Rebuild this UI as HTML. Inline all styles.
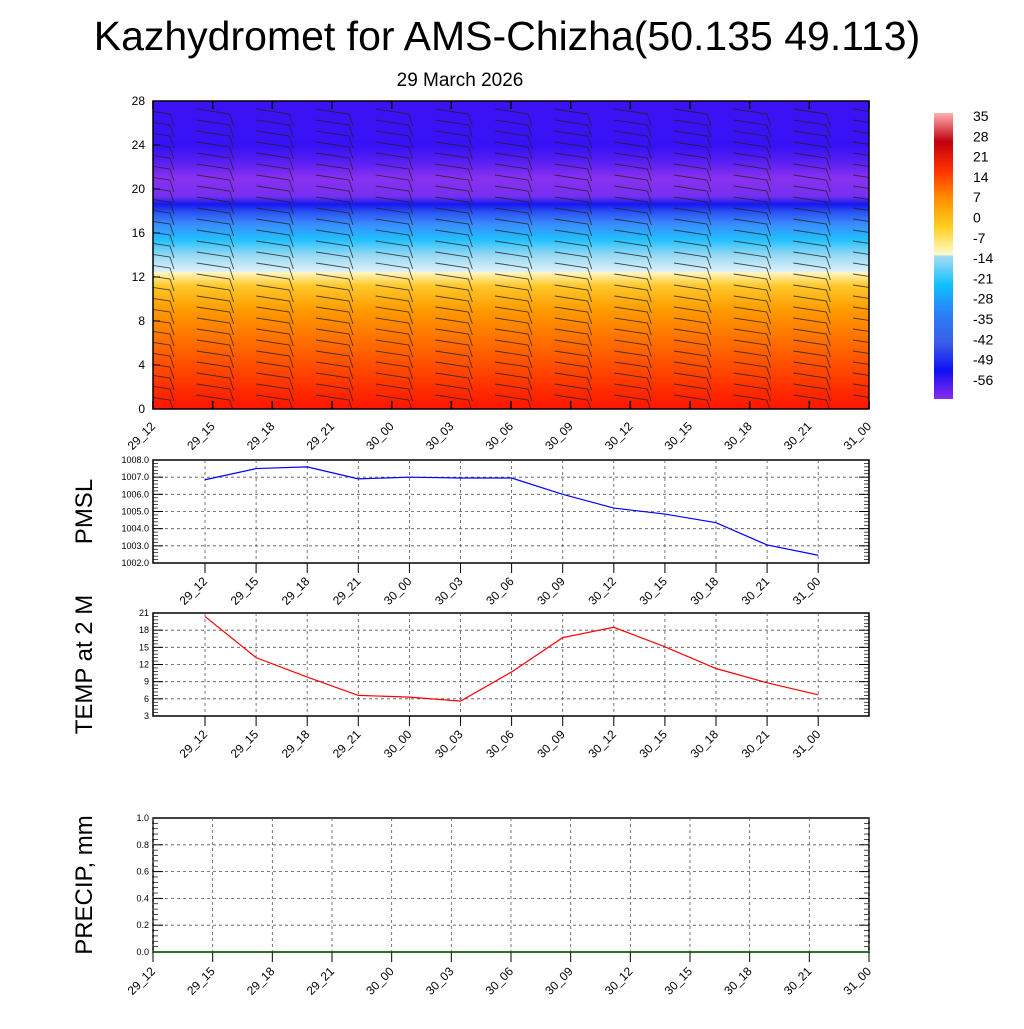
<!DOCTYPE html>
<html><head><meta charset="utf-8"><style>
body{margin:0;background:#fff;font-family:"Liberation Sans",sans-serif}
svg text{font-family:"Liberation Sans",sans-serif}
</style></head><body>
<svg id="s" width="1024" height="1024" viewBox="0 0 1024 1024">
<defs>
<linearGradient id="tg" x1="0" y1="1" x2="0" y2="0">
<stop offset="0" stop-color="#ff1400"/>
<stop offset="0.1" stop-color="#ff3c00"/>
<stop offset="0.22" stop-color="#ff6e00"/>
<stop offset="0.32" stop-color="#ff9a00"/>
<stop offset="0.40" stop-color="#ffc82a"/>
<stop offset="0.443" stop-color="#fff6c0"/>
<stop offset="0.447" stop-color="#dcf0fa"/>
<stop offset="0.50" stop-color="#96d8f2"/>
<stop offset="0.55" stop-color="#20c0ff"/>
<stop offset="0.60" stop-color="#3a8cff"/>
<stop offset="0.64" stop-color="#2a50f2"/>
<stop offset="0.665" stop-color="#1418ee"/>
<stop offset="0.69" stop-color="#7430f0"/>
<stop offset="0.75" stop-color="#8a30f0"/>
<stop offset="0.80" stop-color="#5a20f2"/>
<stop offset="0.85" stop-color="#3812f6"/>
<stop offset="1" stop-color="#3c12f4"/>
</linearGradient>
<linearGradient id="cb" x1="0" y1="1" x2="0" y2="0">
<stop offset="0" stop-color="#8a2cf0"/>
<stop offset="0.1" stop-color="#1010f0"/>
<stop offset="0.2" stop-color="#3a60e8"/>
<stop offset="0.3" stop-color="#2a80f8"/>
<stop offset="0.4" stop-color="#10c0ff"/>
<stop offset="0.5" stop-color="#a8dcf0"/>
<stop offset="0.505" stop-color="#fffad0"/>
<stop offset="0.6" stop-color="#ffd020"/>
<stop offset="0.7" stop-color="#ff9000"/>
<stop offset="0.8" stop-color="#ff3000"/>
<stop offset="0.9" stop-color="#c00010"/>
<stop offset="1" stop-color="#ffb0b0"/>
</linearGradient>
<clipPath id="mc"><rect x="153" y="101" width="716" height="308"/></clipPath>
</defs>
<text x="507" y="50" font-size="41" text-anchor="middle">Kazhydromet for AMS-Chizha(50.135 49.113)</text>
<text x="460" y="86" font-size="19" text-anchor="middle">29 March 2026</text>
<rect x="153" y="101" width="716" height="308" fill="url(#tg)"/>
<g id="barbs" clip-path="url(#mc)"></g>
<rect x="153" y="101" width="716" height="308" fill="none" stroke="#000" stroke-width="1.5"/>
<g id="mainax"></g>
<rect x="934" y="113" width="19" height="286" fill="url(#cb)"/>
<g id="cbl"></g>
<g id="p1"></g><g id="p2"></g><g id="p3"></g>
</svg>
<script>
const times=["29_12","29_15","29_18","29_21","30_00","30_03","30_06","30_09","30_12","30_15","30_18","30_21","31_00"];
const pmsl=[1006.85,1007.5,1007.6,1006.9,1007.0,1006.95,1006.95,1006.0,1005.2,1004.85,1004.35,1003.05,1002.45];
const temp2m=[20.4,13.2,9.8,6.6,6.3,5.6,10.7,16.7,18.5,15.1,11.3,8.8,6.7];
const precip=[0,0,0,0,0,0,0,0,0,0,0,0,0];
const cbLabels=["35","28","21","14","7","0","-7","-14","-21","-28","-35","-42","-49","-56"];
const NS="http://www.w3.org/2000/svg";
function el(t,a,p){const e=document.createElementNS(NS,t);for(const k in a)e.setAttribute(k,a[k]);p.appendChild(e);return e;}
const mx=i=>153+i*716/12, my=v=>409-v*11;
const ma=document.getElementById('mainax');
for(let v=0;v<=28;v+=4){const t=el('text',{x:145,y:my(v)+4,'font-size':12,'text-anchor':'end'},ma);t.textContent=v;


el('line',{x1:153,x2:160,y1:my(v),y2:my(v),stroke:'#000'},ma);}
times.forEach((s,i)=>{const x=mx(i);
el('line',{x1:x,x2:x,y1:101,y2:109,stroke:'#000','stroke-width':1.5},ma);
el('line',{x1:x,x2:x,y1:401,y2:409,stroke:'#000','stroke-width':1.5},ma);
const t=el('text',{x:x+3,y:427,'font-size':12,'text-anchor':'end',transform:`rotate(-45 ${x+3} 427)`},ma);t.textContent=s;

});
const bg=document.getElementById('barbs');
for(let i=0;i<13;i++){for(let r=1;r<28;r++){const cx=mx(i),cy=my(r);
el('path',{d:`M${cx-16} ${cy-3} L${cx+17} ${cy+2} l4 12`,stroke:'#222','stroke-width':0.9,fill:'none','stroke-opacity':0.8},bg);}}
const cl=document.getElementById('cbl');
cbLabels.forEach((s,i)=>{const t=el('text',{x:973,y:121+i*20.3,'font-size':14},cl);t.textContent=s;

});
function panel(g,top,h,ymin,ymax,ticks,fmt,vals,color,title,xPos,labY,name){
const y=v=>top+h-(v-ymin)/(ymax-ymin)*h;


el('rect',{x:153,y:top,width:716,height:h,fill:'#fff',stroke:'#000','stroke-width':1.5},g);
ticks.forEach(v=>{const yy=y(v);
if(v>ymin&&v<ymax)el('line',{x1:153,x2:869,y1:yy,y2:yy,stroke:'#555','stroke-dasharray':'3 3','stroke-width':0.8},g);
el('line',{x1:153,x2:163,y1:yy,y2:yy,stroke:'#000'},g);el('line',{x1:859,x2:869,y1:yy,y2:yy,stroke:'#000'},g);
const t=el('text',{x:149,y:yy+3,'font-size':9,'text-anchor':'end'},g);t.textContent=fmt(v);

});
for(let k=0;k<ticks.length-1;k++){const a=ticks[k],b=ticks[k+1];for(let j=1;j<5;j++){const yy=y(a+(b-a)*j/5);
el('line',{x1:153,x2:158,y1:yy,y2:yy,stroke:'#000','stroke-width':0.7},g);el('line',{x1:864,x2:869,y1:yy,y2:yy,stroke:'#000','stroke-width':0.7},g);}}
times.forEach((s,i)=>{const x=xPos(i);
el('line',{x1:x,x2:x,y1:top,y2:top+h,stroke:'#555','stroke-dasharray':'3 3','stroke-width':0.8},g);
el('line',{x1:x,x2:x,y1:top+h,y2:top+h+10,stroke:'#000'},g);
const t=el('text',{x:x+3,y:labY,'font-size':12,'text-anchor':'end',transform:`rotate(-45 ${x+3} ${labY})`},g);t.textContent=s;

});
const pts=vals.map((v,i)=>xPos(i)+','+y(v)).join(' ');
const pl=el('polyline',{points:pts,fill:'none',stroke:color,'stroke-width':1.2},g);


const cy=top+h/2;const t=el('text',{x:92,y:cy,'font-size':24,'text-anchor':'middle',transform:`rotate(-90 92 ${cy})`},g);t.textContent=title;

}
const lx=i=>205+i*51.1;
panel(document.getElementById('p1'),460,103,1002,1008,[1002,1003,1004,1005,1006,1007,1008],v=>v.toFixed(1),pmsl,'#0000ff','PMSL',lx,582,'pmsl-panel');
panel(document.getElementById('p2'),613,103,3,21,[3,6,9,12,15,18,21],v=>v,temp2m,'#ff0000','TEMP at 2 M',lx,735,'temp-panel');
panel(document.getElementById('p3'),818,134,0,1,[0,0.2,0.4,0.6,0.8,1.0],v=>v.toFixed(1),precip,'#006400','PRECIP, mm',mx,972,'precip-panel');
</script>
</body></html>
